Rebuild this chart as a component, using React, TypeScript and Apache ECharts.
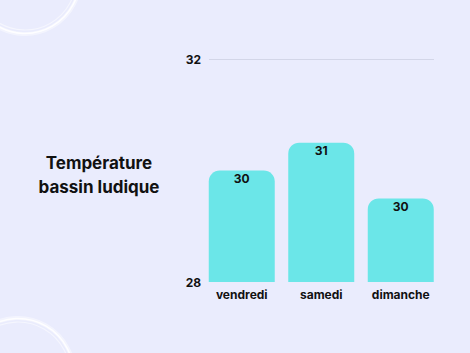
import React, { useEffect, useRef } from "react";
import * as echarts from "echarts";

const categories = ["vendredi", "samedi", "dimanche"];
const temperatures = [30.0, 30.5, 29.5];
const yMin = 28;
const yMax = 32;
const titleLines = ["Température", "bassin ludique"];

export default function App() {
  const ref = useRef<HTMLDivElement>(null);
  useEffect(() => {
    document.body.style.margin = "0";
    const chart = echarts.init(ref.current!, null, { renderer: "svg" });
    const font = "Inter, 'Open Sans', sans-serif";
    const ring = (cx: number, cy: number, r: number, w: number, o: number) => ({
      type: "circle",
      silent: true,
      shape: { cx, cy, r },
      style: { fill: "none", stroke: "#ffffff", lineWidth: w, opacity: o },
    });
    chart.setOption({
      animation: false,
      backgroundColor: "#eaecfd",
      graphic: [
        ring(25, -21, 55, 4, 0.45),
        ring(25, -21, 54.5, 1.5, 0.9),
        ring(25, -21, 51, 1.2, 0.5),
        ring(18, 374, 56, 4, 0.45),
        ring(18, 374, 55.5, 1.5, 0.9),
        ring(18, 374, 52, 1.2, 0.5),
        ...titleLines.map((t, i) => ({
          type: "text",
          style: {
            x: 99,
            y: 163 + i * 24,
            text: t,
            font: `bold 17px ${font}`,
            fill: "#111111",
            textAlign: "center",
            textVerticalAlign: "middle",
          },
        })),
      ],
      grid: [
        { left: 202, right: 29.5, top: 59, bottom: 71 },
        { left: 209, right: 36, top: 59, bottom: 71 },
      ],
      xAxis: [
        {
          type: "category",
          gridIndex: 0,
          data: categories,
          axisLine: { show: false },
          axisTick: { show: false },
          axisLabel: { color: "#111111", fontWeight: "bold", fontSize: 12, fontFamily: font, margin: 6 },
        },
        { type: "category", gridIndex: 1, data: categories, show: false },
      ],
      yAxis: [
        { type: "value", gridIndex: 0, min: yMin, max: yMax, interval: 4, show: false },
        {
          type: "value",
          gridIndex: 1,
          min: yMin,
          max: yMax,
          interval: 4,
          axisLine: { show: false },
          axisTick: { show: false },
          axisLabel: { color: "#111111", fontWeight: "bold", fontSize: 12, fontFamily: font, margin: 8 },
          splitLine: { show: true, showMinLine: false, lineStyle: { color: "#d3d6e8", width: 1 } },
        },
      ],
      series: [
        {
          type: "bar",
          xAxisIndex: 0,
          yAxisIndex: 0,
          data: temperatures,
          barWidth: 66,
          itemStyle: { color: "#6be6e8", borderRadius: [11, 11, 0, 0] },
          label: {
            show: true,
            position: "insideTop",
            distance: 2,
            color: "#111111",
            fontWeight: "bold",
            fontSize: 12,
            fontFamily: font,
            formatter: (p: any) => String(Math.round(p.value)),
          },
        },
      ],
    });
    return () => chart.dispose();
  }, []);
  return <div ref={ref} style={{ width: 470, height: 353 }} />;
}
